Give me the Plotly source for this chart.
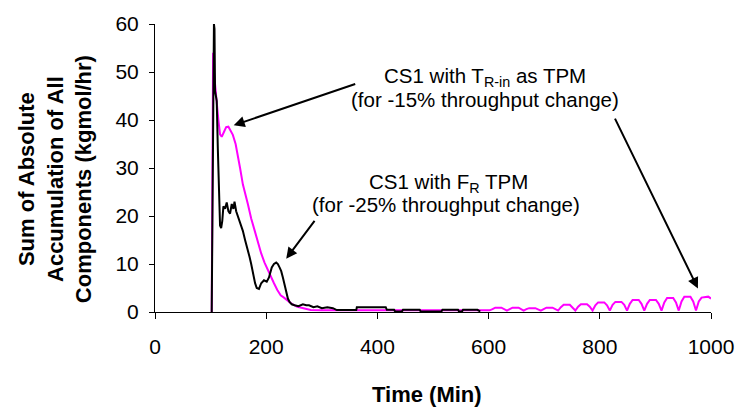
import plotly.graph_objects as go

# CS1 with T_R-in as TPM (-15 % throughput change)
t_tr = [102, 103, 104.5, 106, 110, 114, 117, 120, 124, 128, 132, 136, 140, 145, 149, 153,
        158, 163, 167, 173, 179, 185, 191, 197, 203, 209, 214, 220, 226, 232, 238, 246,
        256, 268, 280, 300, 400, 500, 602,
        607, 612, 623, 628, 633, 638, 643, 654, 659, 663, 668, 673, 684, 689, 694,
        699, 704, 715, 720, 725, 730, 735, 746, 751, 756, 761, 766, 777, 782, 787,
        792, 797, 808, 813, 818, 823, 828, 839, 844, 849, 854, 859, 870, 875, 880,
        885, 890, 901, 906, 911, 916, 921, 932, 937, 942, 947, 952, 963, 968, 973,
        978, 983, 990, 995, 1000]
v_tr = [0, 30, 54, 50, 44, 40, 37, 36.5, 37.5, 38.5, 38.6, 37.8, 36.9, 35, 32.8, 30,
        26.6, 24.5, 22.5, 19.5, 16.9, 14.5, 12.2, 10.3, 8.7, 7.2, 6, 4.6, 3.5, 3, 2.5, 1.7,
        1.1, 0.7, 0.4, 0.35, 0.35, 0.35, 0.35,
        0.6, 0.9, 0.9, 0.6, 0.3, 0.6, 0.9, 0.9, 0.6, 0.3, 0.6, 0.8, 0.8, 0.6, 0.3,
        0.6, 0.9, 0.9, 0.6, 0.3, 1.0, 1.5, 1.5, 1.0, 0.3, 1.1, 1.6, 1.6, 1.1, 0.3,
        1.4, 2.0, 2.0, 1.4, 0.3, 1.5, 2.1, 2.1, 1.5, 0.3, 1.7, 2.5, 2.5, 1.7, 0.3,
        1.7, 2.5, 2.5, 1.7, 0.3, 2.0, 2.9, 2.9, 2.0, 0.3, 2.2, 3.2, 3.2, 2.2, 0.3,
        2.2, 3.0, 3.2, 3.2, 2.8]

# CS1 with F_R TPM (-25 % throughput change)
t_fr = [102, 104, 106, 107, 108, 111, 113, 115, 117, 119, 121, 123, 126, 129, 132, 135,
        138, 141, 143, 146, 150, 154, 158, 162, 166, 170, 173, 176, 180, 183, 187, 191,
        196, 201, 205, 210, 214, 218, 221, 224, 227, 230, 233, 236, 239, 242, 246, 251,
        258, 266, 272, 277, 285, 292, 300, 310, 320, 327, 345, 362, 363, 415, 417, 430,
        432, 444, 446, 476, 478, 515, 517, 545, 547, 552, 554, 580, 585]
v_fr = [0, 30, 60, 59, 46, 44, 34, 26, 18, 17.5, 19, 22, 21.5, 22.8, 21, 20.5,
        22.5, 21.5, 23, 21, 19.6, 18, 16.9, 15, 13.5, 11.5, 10, 8, 6, 5, 4.8, 6,
        6.6, 6.3, 7.2, 9.3, 10, 10.3, 10, 9.3, 8.5, 7.2, 5.5, 3.9, 2.8, 2.1, 1.6, 1.4,
        1.2, 1.6, 1.4, 1.4, 1.0, 1.2, 0.8, 1.0, 0.8, 0.4, 0.4, 0.4, 1.0, 1.0, 0.45, 0.45,
        0.1, 0.1, 0.45, 0.45, 0.1, 0.1, 0.45, 0.45, 0.1, 0.1, 0.45, 0.45, 0.1]

x_ticks = [0, 200, 400, 600, 800, 1000]
y_ticks = [0, 10, 20, 30, 40, 50, 60]

FONT = "Liberation Sans, Arial, sans-serif"

fig = go.Figure()
fig.add_trace(go.Scatter(x=t_tr, y=v_tr, mode="lines",
                         line=dict(color="#FF00FF", width=2), hoverinfo="skip"))
fig.add_trace(go.Scatter(x=t_fr, y=v_fr, mode="lines",
                         line=dict(color="#000000", width=2), hoverinfo="skip"))

# arrows: (head x, head y, tail x, tail y) in data units
arrows = [(141.6, 38.9, 362.8, 47.6),
          (236, 11.1, 289, 19.3),
          (976.5, 4.9, 826, 40.6)]
for hx, hy, tx, ty in arrows:
    fig.add_annotation(x=hx, y=hy, ax=tx, ay=ty, xref="x", yref="y", axref="x", ayref="y",
                       text="", showarrow=True, arrowhead=2, arrowsize=1.1,
                       arrowwidth=2, arrowcolor="#000000", standoff=0)

labels = [("CS1 with T<sub>R-in</sub> as TPM", 593, 48.9),
          ("(for -15% throughput change)", 593, 44.3),
          ("CS1 with F<sub>R</sub> TPM", 527, 26.8),
          ("(for -25% throughput change)", 524, 22.3)]
for txt, lx, ly in labels:
    fig.add_annotation(x=lx, y=ly, xref="x", yref="y", text=txt, showarrow=False,
                       xanchor="center", yanchor="middle",
                       font=dict(family=FONT, size=20.5, color="#000000"))

fig.add_annotation(x=-0.1805, y=0.46, xref="paper", yref="paper",
                   text=("<b>Sum of Absolute<br>Accumulation of All<br>"
                         "Components (kgmol/hr)</b>"),
                   textangle=-90, showarrow=False, xanchor="center", yanchor="middle",
                   font=dict(family=FONT, size=22, color="#000000"))
fig.add_annotation(x=0.49, y=-0.285, xref="paper", yref="paper",
                   text="<b>Time (Min)</b>", showarrow=False,
                   xanchor="center", yanchor="middle",
                   font=dict(family=FONT, size=22, color="#000000"))

fig.update_xaxes(range=[0, 1000], tickvals=x_ticks, ticks="outside", ticklen=6,
                 tickcolor="#000000", showline=True, linecolor="#000000", linewidth=1,
                 showgrid=False, zeroline=False, ticklabelstandoff=10,
                 tickfont=dict(family=FONT, size=21, color="#000000"))
fig.update_yaxes(range=[0, 60], tickvals=y_ticks, ticks="outside", ticklen=5,
                 tickcolor="#000000", showline=True, linecolor="#000000", linewidth=1,
                 showgrid=False, zeroline=False, ticklabelstandoff=6,
                 tickfont=dict(family=FONT, size=21, color="#000000"))

fig.update_layout(width=746, height=418, showlegend=False,
                  margin=dict(l=155, r=26, t=21, b=106),
                  paper_bgcolor="#FFFFFF", plot_bgcolor="#FFFFFF",
                  font=dict(family=FONT))

fig.write_html("out.html")
